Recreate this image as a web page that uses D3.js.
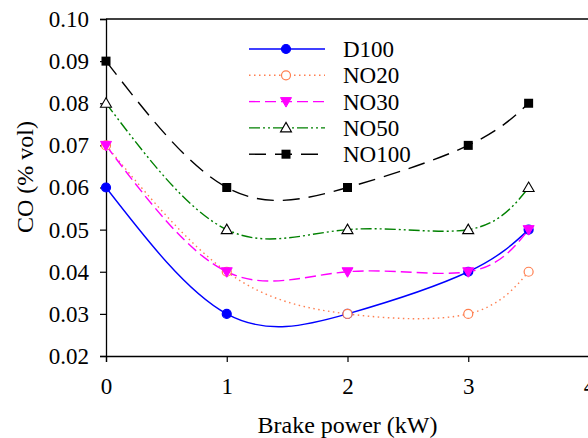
<!DOCTYPE html>
<html><head><meta charset="utf-8">
<script src="https://cdn.jsdelivr.net/npm/d3@7"></script>
<style>body{margin:0;background:#fff;}svg{display:block;}
svg text{font-family:"Liberation Serif","Times New Roman","DejaVu Serif",serif;}</style>
</head><body>
<script>
const xValues = [0, 1, 2, 3, 3.5];
const seriesNames = ["D100", "NO20", "NO30", "NO50", "NO100"];
const D100 = [0.06, 0.03, 0.03, 0.04, 0.05];
const NO20 = [0.07, 0.04, 0.03, 0.03, 0.04];
const NO30 = [0.07, 0.04, 0.04, 0.04, 0.05];
const NO50 = [0.08, 0.05, 0.05, 0.05, 0.06];
const NO100 = [0.09, 0.06, 0.06, 0.07, 0.08];
const xTicks = [0, 1, 2, 3, 4];
const yTicks = [0.02, 0.03, 0.04, 0.05, 0.06, 0.07, 0.08, 0.09, 0.10];

const styles = {
  D100:  {color:"#0000ff", dash:null, marker:"circle", fill:"#0000ff", stroke:"#0000ff"},
  NO20:  {color:"#ff7f50", dash:"1.5,3.5", marker:"circle", fill:"#fff", stroke:"#ff7f50"},
  NO30:  {color:"#ff00ff", dash:"11,5", marker:"tri-down", fill:"#ff00ff", stroke:"#ff00ff"},
  NO50:  {color:"#008000", dash:"11,3,2,3,2,3", marker:"tri-up", fill:"#fff", stroke:"#000"},
  NO100: {color:"#000000", dash:"17,9", marker:"square", fill:"#000", stroke:"#000"}
};
const dataMap = {D100, NO20, NO30, NO50, NO100};

const W = 588, H = 438;
const svg = d3.select("body").append("svg").attr("width", W).attr("height", H);
const x = d3.scaleLinear().domain([0, 4]).range([106, 589]);
const y = d3.scaleLinear().domain([0.02, 0.10]).range([356, 19]);

svg.append("line").attr("x1", x(0)).attr("x2", W).attr("y1", y(0.10)).attr("y2", y(0.10))
  .attr("stroke", "#000").attr("stroke-width", 1.3);

const xAxis = svg.append("g").attr("transform", `translate(0,${y(0.02)})`)
  .call(d3.axisBottom(x).tickValues(xTicks).tickSize(6).tickPadding(16).tickFormat(d3.format("d")));
const yAxis = svg.append("g").attr("transform", `translate(${x(0)},0)`)
  .call(d3.axisLeft(y).tickValues(yTicks).tickSize(6).tickPadding(11).tickFormat(d3.format(".2f")));
[xAxis, yAxis].forEach(g => {
  g.select(".domain").attr("stroke", "#000").attr("stroke-width", 1.3);
  g.selectAll(".tick line").attr("stroke", "#000").attr("stroke-width", 1.2);
  g.selectAll("text").attr("font-size", 23).attr("fill", "#000");
});

svg.append("text").attr("x", x(2)).attr("y", 433).attr("text-anchor", "middle")
  .attr("font-size", 24).text("Brake power (kW)");
svg.append("text").attr("transform", `translate(33,177) rotate(-90)`).attr("text-anchor", "middle")
  .attr("font-size", 24).text("CO (% vol)");

function drawMarker(g, type, cx, cy, st) {
  if (type === "circle") {
    g.append("circle").attr("cx", cx).attr("cy", cy).attr("r", 4.5)
      .attr("fill", st.fill).attr("stroke", st.stroke).attr("stroke-width", 1.2);
  } else if (type === "square") {
    g.append("rect").attr("x", cx - 4.5).attr("y", cy - 4.5).attr("width", 9).attr("height", 9)
      .attr("fill", st.fill);
  } else if (type === "tri-up") {
    g.append("path").attr("d", `M${cx},${cy-5.5}L${cx+5.5},${cy+4}L${cx-5.5},${cy+4}Z`)
      .attr("fill", st.fill).attr("stroke", st.stroke).attr("stroke-width", 1.1);
  } else if (type === "tri-down") {
    g.append("path").attr("d", `M${cx-5.5},${cy-4}L${cx+5.5},${cy-4}L${cx},${cy+5.5}Z`)
      .attr("fill", st.fill).attr("stroke", st.stroke).attr("stroke-width", 1);
  }
}

const line = d3.line().x(d => x(d[0])).y(d => y(d[1])).curve(d3.curveNatural);
const plot = svg.append("g");
seriesNames.forEach(name => {
  const st = styles[name];
  const pts = xValues.map((v, i) => [v, dataMap[name][i]]);
  plot.append("path").datum(pts).attr("d", line).attr("fill", "none")
    .attr("stroke", st.color).attr("stroke-width", 1.4)
    .attr("stroke-dasharray", st.dash);
});
seriesNames.forEach(name => {
  const st = styles[name];
  xValues.forEach((v, i) => drawMarker(plot, st.marker, x(v), y(dataMap[name][i]), st));
});

const leg = svg.append("g");
seriesNames.forEach((name, i) => {
  const st = styles[name];
  const ly = 49 + i * 26.3;
  leg.append("line").attr("x1", 249).attr("x2", 325).attr("y1", ly).attr("y2", ly)
    .attr("stroke", st.color).attr("stroke-width", 1.4).attr("stroke-dasharray", st.dash);
  drawMarker(leg, st.marker, 286, ly, st);
  leg.append("text").attr("x", 343).attr("y", ly + 8).attr("font-size", 23).text(name);
});
</script>
</body></html>
